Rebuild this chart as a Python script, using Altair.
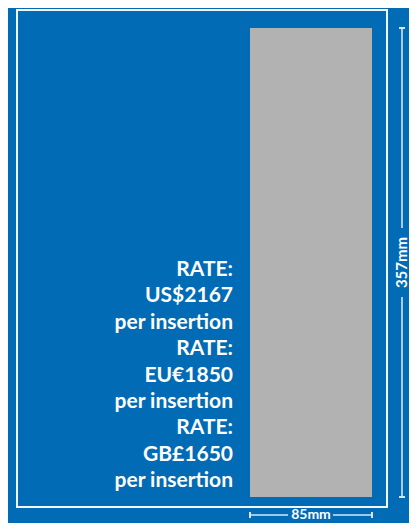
import altair as alt
import pandas as pd

# ---- data ----
PAGE_WIDTH_MM = [85]
PAGE_HEIGHT_MM = [357]
CURRENCIES = ["US$", "EU€", "GB£"]
RATES = [2167, 1850, 1650]
RATE_HEAD = "RATE:"
RATE_UNIT = "per insertion"

BLUE = "#016BB6"
GRAY = "#B2B2B2"
LINE = "#D6E6F4"

W_MM = PAGE_WIDTH_MM[0]
H_MM = PAGE_HEIGHT_MM[0]

page = pd.DataFrame({"x0": [0], "x1": [W_MM], "y0": [0], "y1": [H_MM]})
caps_v = pd.DataFrame({"y": [0, H_MM]})
caps_h = pd.DataFrame({"x": [0, W_MM]})
lab_v = pd.DataFrame({"y": [H_MM / 2], "t": [f"{H_MM}mm"]})
lab_h = pd.DataFrame({"x": [W_MM / 2], "t": [f"{W_MM}mm"]})

lines = []
for cur, r in zip(CURRENCIES, RATES):
    lines += [RATE_HEAD, f"{cur}{r}", RATE_UNIT]
text_df = pd.DataFrame({"i": list(range(len(lines))), "t": lines})

xs = alt.Scale(domain=[0, W_MM], range=[242, 364])
ys = alt.Scale(domain=[0, H_MM], range=[20, 489])

HY = 507  # horizontal dimension line

border = alt.Chart(page).mark_rect(
    fill=None, stroke="white", strokeWidth=2, strokeOpacity=0.95
).encode(x=alt.value(9), x2=alt.value(379), y=alt.value(2), y2=alt.value(499))

gray = alt.Chart(page).mark_rect(color=GRAY).encode(
    x=alt.X("x0:Q", scale=xs, axis=None),
    x2="x1:Q",
    y=alt.Y("y0:Q", scale=ys, axis=None),
    y2="y1:Q",
)

vline = alt.Chart(page).mark_rule(color=LINE, strokeWidth=1.6).encode(
    x=alt.value(394),
    y=alt.Y("y0:Q", scale=ys, axis=None),
    y2="y1:Q",
)
vcaps = alt.Chart(caps_v).mark_rule(color=LINE, strokeWidth=2).encode(
    x=alt.value(391), x2=alt.value(397),
    y=alt.Y("y:Q", scale=ys, axis=None),
)
vgap = alt.Chart(lab_v).mark_rect(color=BLUE).encode(
    x=alt.value(388), x2=alt.value(400),
    y=alt.value(220), y2=alt.value(289),
)
vlab = alt.Chart(lab_v).mark_text(
    angle=270, align="center", baseline="middle", font="Lato",
    fontWeight="bold", fontSize=15, color="white"
).encode(
    x=alt.value(394),
    y=alt.Y("y:Q", scale=ys, axis=None),
    text="t:N",
)

hline = alt.Chart(page).mark_rule(color=LINE, strokeWidth=1.6).encode(
    x=alt.X("x0:Q", scale=xs, axis=None),
    x2="x1:Q",
    y=alt.value(HY),
)
hcaps = alt.Chart(caps_h).mark_rule(color=LINE, strokeWidth=2).encode(
    x=alt.X("x:Q", scale=xs, axis=None),
    y=alt.value(HY - 3), y2=alt.value(HY + 3),
)
hgap = alt.Chart(lab_h).mark_rect(color=BLUE).encode(
    x=alt.value(280), x2=alt.value(325),
    y=alt.value(HY - 7), y2=alt.value(HY + 7),
)
hlab = alt.Chart(lab_h).mark_text(
    align="center", baseline="middle", font="Lato",
    fontWeight="bold", fontSize=14, color="white"
).encode(
    x=alt.X("x:Q", scale=xs, axis=None),
    y=alt.value(HY),
    text="t:N",
)

rates = alt.Chart(text_df).mark_text(
    align="right", baseline="alphabetic", font="Lato",
    fontWeight="bold", fontSize=21, color="white"
).encode(
    x=alt.value(225),
    y=alt.Y("i:Q", scale=alt.Scale(domain=[0, len(lines) - 1], range=[268, 479]), axis=None),
    text="t:N",
)

chart = alt.layer(
    border, gray, vline, vcaps, vgap, vlab, hline, hcaps, hgap, hlab, rates
).resolve_scale(x="independent", y="independent").properties(
    width=401, height=515, background=BLUE,
    autosize=alt.AutoSizeParams(type="none"), padding=0,
).configure_view(stroke=None)

chart.save("out.html", embed_options={"renderer": "svg", "actions": False})
